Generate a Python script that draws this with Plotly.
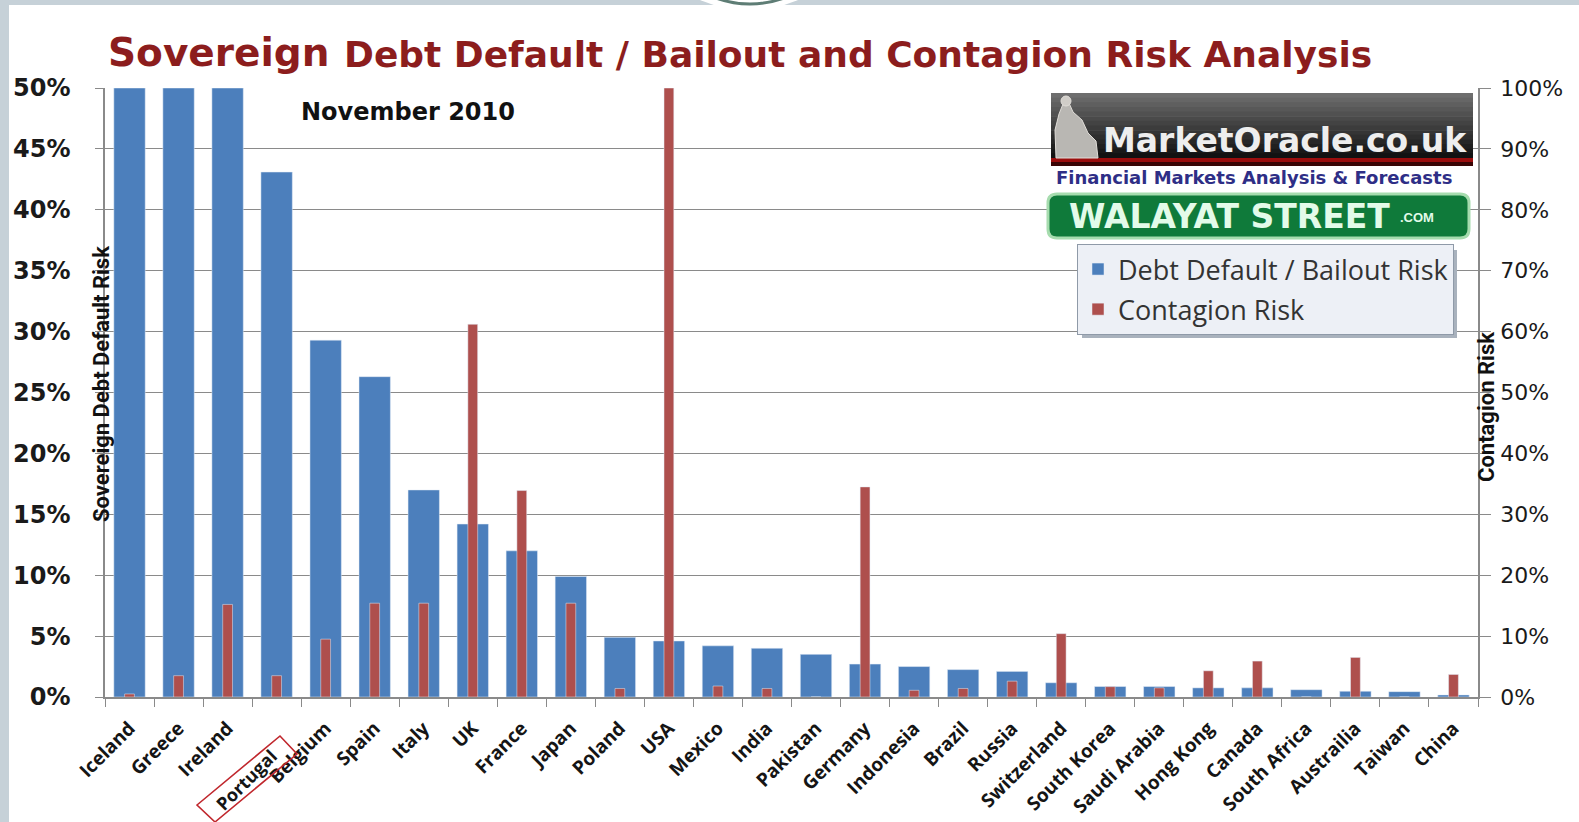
import plotly.graph_objects as go

# Sovereign debt default / contagion risk, November 2010
countries = ["Iceland", "Greece", "Ireland", "Portugal", "Belgium", "Spain", "Italy", "UK",
             "France", "Japan", "Poland", "USA", "Mexico", "India", "Pakistan", "Germany",
             "Indonesia", "Brazil", "Russia", "Switzerland", "South Korea", "Saudi Arabia",
             "Hong Kong", "Canada", "South Africa", "Austrailia", "Taiwan", "China"]
debt_risk = [50, 50, 50, 43.1, 29.3, 26.3, 17.0, 14.2, 12.0, 9.9, 4.9, 4.6, 4.2, 4.0,
             3.5, 2.7, 2.5, 2.25, 2.1, 1.17, 0.86, 0.86, 0.75, 0.75, 0.6, 0.47, 0.44, 0.17]
contagion_risk = [0.5, 3.5, 15.2, 3.5, 9.5, 15.4, 15.4, 61.2, 33.9, 15.4, 1.4, 100, 1.8, 1.4,
                  0, 34.5, 1.1, 1.4, 2.6, 10.4, 1.7, 1.5, 4.3, 5.9, 0, 6.5, 0, 3.7]
left_ticks = [0, 5, 10, 15, 20, 25, 30, 35, 40, 45, 50]
right_ticks = [0, 10, 20, 30, 40, 50, 60, 70, 80, 90, 100]
boxed = "Portugal"

W, H = 1579, 822
L, R, T, B = 105, 1478, 88, 697
PW, PH = R - L, B - T


def px(x):
    return (x - L) / PW


def py(y):
    return (B - y) / PH


def rect(x0, y0, x1, y1, fill, line=None, lw=0, layer="above"):
    return dict(type="rect", xref="paper", yref="paper", x0=px(x0), x1=px(x1),
                y0=py(y0), y1=py(y1), fillcolor=fill, layer=layer,
                line=dict(color=line or fill, width=lw))


def poly(pts):
    return "M " + " L ".join(f"{px(x)},{py(y)}" for x, y in pts) + " Z"


fig = go.Figure()
fig.add_trace(go.Bar(x=countries, y=debt_risk, name="Debt Default / Bailout Risk",
                     marker_color="#4c7fbc", width=0.64, offset=-0.32, legendgroup="a"))
fig.add_trace(go.Bar(x=countries, y=contagion_risk, name="Contagion Risk", yaxis="y2",
                     marker_color="#ae4f4d", width=0.2, offset=-0.1, legendgroup="b"))

shapes = []
# outer frame
shapes.append(rect(9, 5, W + 5, H + 5, "white", layer="below"))
shapes.append(dict(type="circle", xref="paper", yref="paper", x0=px(624), x1=px(874),
                   y0=py(-240), y1=py(10), fillcolor="white", line=dict(width=0), layer="below"))
shapes.append(dict(type="circle", xref="paper", yref="paper", x0=px(650), x1=px(850),
                   y0=py(-196), y1=py(4), line=dict(color="#5e7d75", width=3), layer="below"))

# MarketOracle logo block
top, bot = 93, 158
n = 14
for i in range(n):
    c = int(110 - 92 * i / (n - 1))
    y0 = top + (bot - top) * i / n
    y1 = top + (bot - top) * (i + 1) / n + 0.6
    shapes.append(rect(1051, y0, 1473, y1, f"rgb({c},{c},{c})"))
shapes.append(rect(1051, 158, 1473, 162, "#9a0d0d"))
shapes.append(rect(1051, 162, 1473, 166, "#3a0505"))
# statue silhouette
shapes.append(dict(type="path", xref="paper", yref="paper", layer="above",
                   path=poly([(1056, 158), (1055, 130), (1059, 114), (1063, 104), (1069, 103),
                              (1073, 112), (1082, 120), (1088, 133), (1096, 141), (1098, 158)]),
                   fillcolor="#b9b7b3", line=dict(color="#e0ddd8", width=1)))
shapes.append(dict(type="circle", xref="paper", yref="paper", layer="above",
                   x0=px(1061), x1=px(1071), y0=py(106), y1=py(96),
                   fillcolor="#d0cdc8", line=dict(color="#e0ddd8", width=1)))

# Walayat Street sign
gx0, gx1, gy0, gy1, rr = 1048, 1469, 194, 238, 9
shapes.append(dict(type="path", xref="paper", yref="paper", layer="above",
                   path=(f"M {px(gx0 + rr)},{py(gy0)} L {px(gx1 - rr)},{py(gy0)} "
                         f"Q {px(gx1)},{py(gy0)} {px(gx1)},{py(gy0 + rr)} "
                         f"L {px(gx1)},{py(gy1 - rr)} Q {px(gx1)},{py(gy1)} {px(gx1 - rr)},{py(gy1)} "
                         f"L {px(gx0 + rr)},{py(gy1)} Q {px(gx0)},{py(gy1)} {px(gx0)},{py(gy1 - rr)} "
                         f"L {px(gx0)},{py(gy0 + rr)} Q {px(gx0)},{py(gy0)} {px(gx0 + rr)},{py(gy0)} Z"),
                   fillcolor="#0f7a3a", line=dict(color="#a6dcae", width=3)))

# legend shadow
shapes.append(rect(1082, 250, 1457, 338, "#a9b2bd"))

# box around the Portugal label
shapes.append(dict(type="path", xref="paper", yref="paper", layer="above",
                   path=poly([(197, 805), (280, 736), (297, 754), (215, 822)]),
                   line=dict(color="#c0272d", width=1.6)))

tick_text = ["" if c == boxed else c for c in countries]
tick_font = dict(family="Open Sans", size=19, color="#151515", weight="bold")

annotations = [
    dict(text="Sovereign", x=px(106), y=py(77), xanchor="left", yanchor="bottom",
         font=dict(family="DejaVu Sans", size=39, color="#8c1d1d", weight="bold")),
    dict(text="Debt Default / Bailout and Contagion Risk Analysis", x=px(342), y=py(77),
         xanchor="left", yanchor="bottom",
         font=dict(family="DejaVu Sans", size=36, color="#8c1d1d", weight="bold")),
    dict(text="November 2010", x=px(408), y=py(112), xanchor="center", yanchor="middle",
         font=dict(family="DejaVu Sans", size=24, color="#111", weight="bold")),
    dict(text="Sovereign Debt Default Risk", x=px(101), y=py(384), textangle=-90,
         xanchor="center", yanchor="middle",
         font=dict(family="Liberation Sans Narrow, Roboto, sans-serif", size=22,
                   color="#111", weight="bold")),
    dict(text="Contagion Risk", x=px(1486), y=py(407), textangle=-90,
         xanchor="center", yanchor="middle",
         font=dict(family="Liberation Sans Narrow, Roboto, sans-serif", size=22,
                   color="#111", weight="bold")),
    dict(text=boxed, x=px(246), y=py(780), textangle=-45, xanchor="center", yanchor="middle",
         font=dict(family="Open Sans", size=18, color="#151515", weight="bold")),
    dict(text="MarketOracle.co.uk", x=px(1101), y=py(140), xanchor="left", yanchor="middle",
         font=dict(family="DejaVu Sans", size=33, color="#eeeeee", weight="bold")),
    dict(text="Financial Markets Analysis & Forecasts", x=px(1254), y=py(177),
         xanchor="center", yanchor="middle",
         font=dict(family="DejaVu Sans", size=18, color="#2e2e86", weight="bold")),
    dict(text="WALAYAT STREET", x=px(1067), y=py(216), xanchor="left", yanchor="middle",
         font=dict(family="DejaVu Sans", size=33, color="#e3fbe9", weight="bold")),
    dict(text=".COM", x=px(1398), y=py(218), xanchor="left", yanchor="middle",
         font=dict(family="Liberation Sans", size=13, color="#e3fbe9", weight="bold")),
]
for a in annotations:
    a.update(xref="paper", yref="paper", showarrow=False)

fig.update_layout(
    width=W, height=H,
    margin=dict(l=L, r=W - R, t=T, b=H - B, autoexpand=False),
    paper_bgcolor="#c6d1d8", plot_bgcolor="white",
    barmode="overlay",
    shapes=shapes, annotations=annotations,
    xaxis=dict(tickangle=-45, tickmode="array", tickvals=countries, ticktext=tick_text,
               tickfont=tick_font, automargin=False,
               showline=True, linecolor="#8a8a8a", linewidth=1.5, ticks="outside",
               tickson="boundaries", ticklen=8, tickcolor="#8a8a8a", ticklabelstandoff=11,
               range=[-0.5, len(countries) - 0.5]),
    yaxis=dict(range=[0, 50], tickvals=left_ticks, ticktext=[f"{v}%" for v in left_ticks],
               tickfont=dict(family="DejaVu Sans", size=24, color="#1a1a1a", weight="bold"),
               showline=True, linecolor="#8a8a8a", linewidth=1.5, ticks="outside", ticklen=8,
               tickcolor="#8a8a8a", gridcolor="#8a8a8a", gridwidth=1, ticklabelstandoff=20,
               zeroline=False, automargin=False),
    yaxis2=dict(range=[0, 100], tickvals=right_ticks, ticktext=[f"{v}%" for v in right_ticks],
                overlaying="y", side="right", showgrid=False,
                tickfont=dict(family="DejaVu Sans", size=22, color="#1a1a1a"),
                showline=True, linecolor="#8a8a8a", linewidth=1.5, ticks="outside", ticklen=11,
                tickcolor="#8a8a8a", ticklabelstandoff=5, zeroline=False, automargin=False),
    legend=dict(x=px(1077), y=py(244), xanchor="left", yanchor="top",
                bgcolor="#edf0f6", bordercolor="#8f9aa8", borderwidth=1,
                font=dict(family="Open Sans", size=27, color="#333"),
                tracegroupgap=2),
    showlegend=True,
)

fig.write_html("out.html", config={"displayModeBar": False},
               post_script="document.body.style.margin='0';")
